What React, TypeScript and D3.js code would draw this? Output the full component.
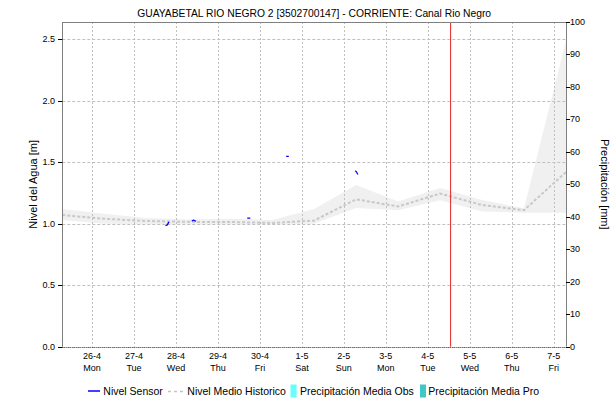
import React from "react";
import * as d3 from "d3";

const TITLE = "GUAYABETAL RIO NEGRO 2 [3502700147] - CORRIENTE: Canal Rio Negro";
const Y_LEFT_TITLE = "Nivel del Agua [m]";
const Y_RIGHT_TITLE = "Precipitación [mm]";

const histDates = [
  "2021-04-25T07:00", "2021-04-26T07:00", "2021-04-27T07:00", "2021-04-28T07:00",
  "2021-04-29T07:00", "2021-04-30T07:00", "2021-05-01T07:00", "2021-05-02T07:00",
  "2021-05-03T07:00", "2021-05-04T07:00", "2021-05-05T07:00", "2021-05-06T07:00",
  "2021-05-07T07:00",
];
const histMean = [1.07, 1.04, 1.022, 1.015, 1.014, 1.006, 1.026, 1.198, 1.14, 1.245, 1.152, 1.11, 1.42];
const histUpper = [1.12, 1.08, 1.046, 1.035, 1.04, 1.03, 1.12, 1.315, 1.18, 1.29, 1.193, 1.125, 2.49];
const histLower = [1.03, 1.0, 0.996, 0.996, 0.996, 0.995, 1.0, 1.128, 1.11, 1.19, 1.1, 1.09, 1.09];

const sensorTimes = [
  "2021-04-27T18:00", "2021-04-27T19:00", "2021-04-27T20:00", null,
  "2021-04-28T09:00", "2021-04-28T10:00", "2021-04-28T11:30", null,
  "2021-04-29T16:45", "2021-04-29T18:30", null,
  "2021-04-30T15:00", "2021-04-30T16:30", null,
  "2021-05-02T06:30", "2021-05-02T07:15", "2021-05-02T08:00",
];
const sensorValues = [
  0.985, 0.99, 1.015, null,
  1.022, 1.028, 1.02, null,
  1.045, 1.045, null,
  1.548, 1.548, null,
  1.43, 1.42, 1.40,
];

const nowTime = "2021-05-04T13:00";
const xStart = "2021-04-25T07:00";
const xEnd = "2021-05-07T07:00";

const leftTicks = [0, 0.5, 1.0, 1.5, 2.0, 2.5];
const rightTicks = [0, 10, 20, 30, 40, 50, 60, 70, 80, 90, 100];
const weekdays = ["Sun", "Mon", "Tue", "Wed", "Thu", "Fri", "Sat"];

const legendItems = [
  { label: "Nivel Sensor", kind: "line" },
  { label: "Nivel Medio Historico", kind: "dash" },
  { label: "Precipitación Media Obs", kind: "boxObs" },
  { label: "Precipitación Media Pro", kind: "boxPro" },
];

const FONT = "'Liberation Sans', Arial, sans-serif";

export default function App() {
  const W = 616, H = 401;
  const L = 62.3, R = 566, T = 22, B = 346.7;
  const parse = (s: string) => new Date(s);
  const x = d3.scaleTime().domain([parse(xStart), parse(xEnd)]).range([L, R]);
  const y = d3.scaleLinear().domain([0, 2.64]).range([B, T]);
  const y2 = d3.scaleLinear().domain([0, 100]).range([B, T]);

  const dayTicks = d3.timeDay.range(parse("2021-04-26T00:00"), parse("2021-05-07T12:00"));

  const hist = histDates.map((d, i) => ({ t: parse(d), m: histMean[i], u: histUpper[i], l: histLower[i] }));
  const area = d3.area<any>().x((d) => x(d.t)).y0((d) => y(d.l)).y1((d) => y(d.u));
  const meanLine = d3.line<any>().x((d) => x(d.t)).y((d) => y(d.m));

  const sensor = sensorTimes.map((t, i) => ({ t: t ? parse(t) : null, v: sensorValues[i] }));
  const sensorLine = d3
    .line<any>()
    .defined((d) => d.t !== null && d.v !== null)
    .x((d) => x(d.t))
    .y((d) => y(d.v));

  const xNow = x(parse(nowTime));

  const legendX = [88, 168, 290.5, 420];
  const legendTextX = [103.3, 187.3, 300, 428.3];
  const legendY = 395;
  const midY = (T + B) / 2;

  return (
    <svg width={W} height={H} style={{ display: "block", position: "absolute", left: 0, top: 0 }} fontFamily={FONT}>
      <rect x={0} y={0} width={W} height={H} fill="#ffffff" />
      <text x={(L + R) / 2} y={17} textAnchor="middle" fontSize={10.3} fill="#000">
        {TITLE}
      </text>

      {/* historic band */}
      <path d={area(hist) || ""} fill="#f0f0f0" stroke="none" />

      {/* horizontal grid */}
      {leftTicks.map((v) => (
        <line key={"hg" + v} x1={L} x2={R} y1={Math.round(y(v)) + 0.5} y2={Math.round(y(v)) + 0.5}
          stroke="#c0c0c0" strokeDasharray="3,2" strokeWidth={1} />
      ))}
      {/* vertical grid */}
      {dayTicks.map((d, i) => (
        <line key={"vg" + i} x1={Math.round(x(d)) + 0.5} x2={Math.round(x(d)) + 0.5} y1={T} y2={B}
          stroke="#c0c0c0" strokeDasharray="2,2" strokeWidth={1} />
      ))}

      {/* mean historic */}
      <path d={meanLine(hist) || ""} fill="none" stroke="#c8c8c8" strokeWidth={2} strokeDasharray="3,2" />

      {/* sensor */}
      <path d={sensorLine(sensor) || ""} fill="none" stroke="#0000ff" strokeWidth={1.3} />

      {/* now line */}
      <line x1={xNow} x2={xNow} y1={T} y2={B} style={{ stroke: "#e83535", strokeWidth: 1.1 }} />

      {/* frame */}
      <line x1={L} x2={R} y1={T + 0.5} y2={T + 0.5} stroke="#808080" strokeWidth={1} />
      <line x1={Math.round(L) + 0.5} x2={Math.round(L) + 0.5} y1={T} y2={B} stroke="#808080" strokeWidth={1} />
      <line x1={R + 0.5} x2={R + 0.5} y1={T} y2={B} stroke="#808080" strokeWidth={1} />
      <line x1={L} x2={R} y1={Math.round(B) + 0.5} y2={Math.round(B) + 0.5} stroke="#404040" strokeWidth={1} strokeDasharray="1,1" />

      {/* left axis */}
      {leftTicks.map((v) => (
        <g key={"lt" + v}>
          <line x1={58} x2={L} y1={Math.round(y(v)) + 0.5} y2={Math.round(y(v)) + 0.5} stroke="#000" strokeWidth={1} />
          <text x={55} y={y(v) + 3} textAnchor="end" fontSize={9} fill="#000">
            {d3.format(".1f")(v)}
          </text>
        </g>
      ))}
      <text transform={`translate(37,${midY}) rotate(-90)`} textAnchor="middle" fontSize={11} fill="#000">
        {Y_LEFT_TITLE}
      </text>

      {/* right axis */}
      {rightTicks.map((v) => (
        <g key={"rt" + v}>
          <line x1={R} x2={R + 4} y1={Math.round(y2(v)) + 0.5} y2={Math.round(y2(v)) + 0.5} stroke="#000" strokeWidth={1} />
          <text x={570} y={y2(v) + 3} textAnchor="start" fontSize={9} fill="#000">
            {v}
          </text>
        </g>
      ))}
      <text transform={`translate(601,${midY}) rotate(90)`} textAnchor="middle" fontSize={11} fill="#000">
        {Y_RIGHT_TITLE}
      </text>

      {/* x axis labels */}
      {dayTicks.map((d, i) => (
        <g key={"xl" + i}>
          <text x={x(d)} y={359} textAnchor="middle" fontSize={9} fill="#000">
            {`${d.getDate()}-${d.getMonth() + 1}`}
          </text>
          <text x={x(d)} y={371} textAnchor="middle" fontSize={9} fill="#000">
            {weekdays[d.getDay()]}
          </text>
        </g>
      ))}

      {/* legend */}
      {legendItems.map((it, i) => (
        <g key={"lg" + i}>
          {it.kind === "line" && (
            <line x1={legendX[i]} x2={legendX[i] + 12} y1={391} y2={391} style={{ stroke: "#0000ff", strokeWidth: 1.5 }} />
          )}
          {it.kind === "dash" && (
            <line x1={legendX[i]} x2={legendX[i] + 15} y1={391.5} y2={391.5} stroke="#c4c4c4" strokeWidth={1.5} strokeDasharray="3,3" />
          )}
          {it.kind === "boxObs" && <rect x={legendX[i]} y={384.5} width={6} height={13} fill="#66ffff" />}
          {it.kind === "boxPro" && <rect x={legendX[i]} y={384.5} width={6} height={13} fill="#40c8c8" />}
          <text x={legendTextX[i]} y={legendY} fontSize={10.5} fill="#000">
            {it.label}
          </text>
        </g>
      ))}
    </svg>
  );
}
